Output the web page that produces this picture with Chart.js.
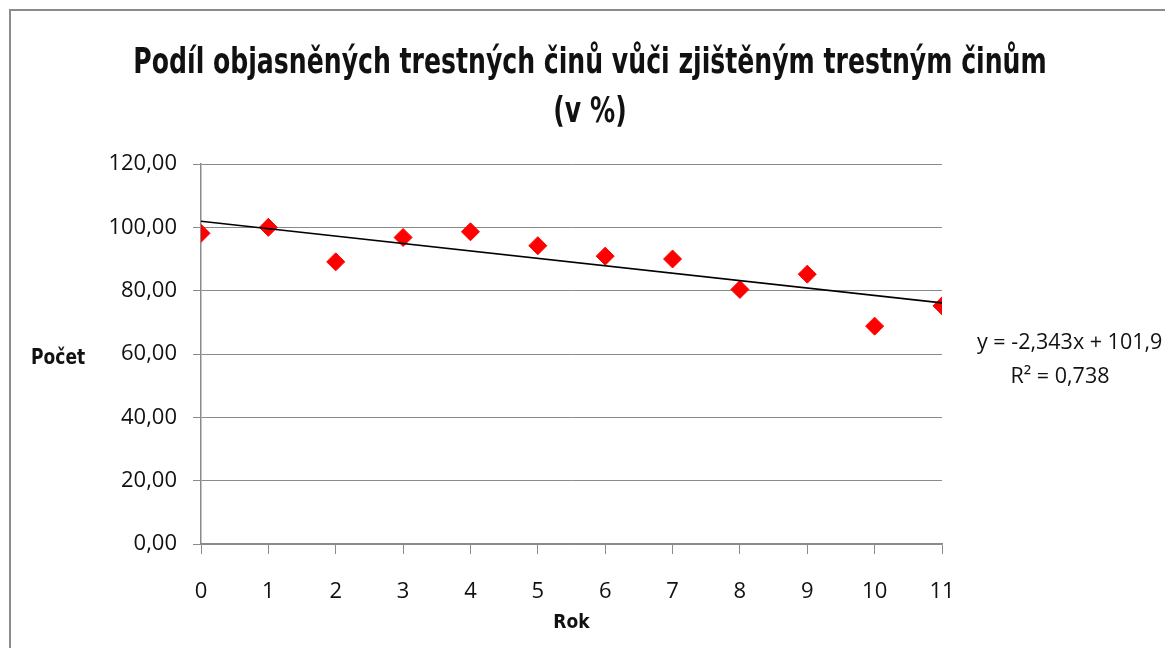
<!DOCTYPE html>
<html><head><meta charset="utf-8">
<script src="https://cdn.jsdelivr.net/npm/chart.js@4"></script>
<style>html,body{margin:0;padding:0;background:#fff;overflow:hidden}
#wrap{position:relative;width:1165px;height:648px}</style>
</head><body><div id="wrap"><canvas id="c" width="1165" height="648"></canvas></div>
<script>
// ---- data ----
const years = [0, 1, 2, 3, 4, 5, 6, 7, 8, 9, 10, 11];
const shares = [98.1, 100.0, 89.1, 96.8, 98.6, 94.2, 90.9, 90.0, 80.4, 85.2, 68.8, 75.2];
const trendX = [0, 11];
const trendY = [101.9, 76.13];
const yTicks = [0, 20, 40, 60, 80, 100, 120];
const titleLines = ['Podíl objasněných trestných činů vůči zjištěným trestným činům', '(v %)'];
const xTitle = 'Rok';
const yTitle = 'Počet';
const eqLines = ['y = -2,343x + 101,9', 'R² = 0,738'];

const NARROW = '"Liberation Sans Narrow", "DejaVu Sans Condensed", "Open Sans", sans-serif';
const REG = '"Open Sans", "Liberation Sans", sans-serif';
const TXT = '#111';
const GRID = '#8a8a8a';

const points = years.map((x, i) => ({x, y: shares[i]}));
const trend = trendX.map((x, i) => ({x, y: trendY[i]}));

function stretchedText(ctx, text, x, y, sy) {
  ctx.save();
  ctx.translate(x, y);
  ctx.scale(1, sy);
  ctx.fillText(text, 0, 0);
  ctx.restore();
}

const deco = {
  id: 'deco',
  beforeDraw(chart) {
    const ctx = chart.ctx;
    ctx.save();
    ctx.fillStyle = '#fff';
    ctx.fillRect(0, 0, chart.width, chart.height);
    ctx.strokeStyle = '#8c8c8c';
    ctx.lineWidth = 2;
    ctx.strokeRect(10, 10, 1400, 1000);
    ctx.restore();
  },
  afterDraw(chart) {
    const ctx = chart.ctx;
    ctx.save();
    ctx.fillStyle = TXT;
    ctx.textBaseline = 'alphabetic';
    // title
    let size = 34;
    ctx.font = 'bold ' + size + 'px ' + NARROW;
    const w = ctx.measureText(titleLines[0]).width;
    if (w > 914) { size = size * 914 / w; ctx.font = 'bold ' + size + 'px ' + NARROW; }
    ctx.textAlign = 'center';
    stretchedText(ctx, titleLines[0], 590, 73, 1.25);
    stretchedText(ctx, titleLines[1], 590, 122, 1.25);
    // y title (horizontal)
    ctx.font = 'bold 19px ' + NARROW;
    ctx.textAlign = 'left';
    stretchedText(ctx, yTitle, 31, 364, 1.15);
    // trendline label
    ctx.font = '21.5px ' + REG;
    ctx.textAlign = 'left';
    ctx.fillText(eqLines[0], 977, 349);
    ctx.textAlign = 'center';
    ctx.fillText(eqLines[1], 1060, 383);
    ctx.restore();
  }
};

new Chart(document.getElementById('c'), {
  type: 'scatter',
  data: {
    datasets: [
      {
        type: 'line', label: 'trend', data: trend, order: 0,
        borderColor: '#000', borderWidth: 1.6, pointRadius: 0, fill: false, tension: 0
      },
      {
        label: 'podíl', data: points, order: 1,
        pointStyle: 'rectRot', pointRadius: 9, pointHoverRadius: 9,
        backgroundColor: '#ff0000', borderColor: '#ff0000', borderWidth: 1
      }
    ]
  },
  options: {
    responsive: false,
    animation: false,
    devicePixelRatio: 1,
    layout: {padding: {left: 0, top: 164, right: 223, bottom: 0}},
    plugins: {legend: {display: false}, tooltip: {enabled: false}, title: {display: false}},
    scales: {
      x: {
        type: 'linear', min: 0, max: 11,
        afterBuildTicks(s) { s.ticks = years.map(v => ({value: v})); },
        ticks: {font: {family: REG, size: 22}, color: TXT, padding: 25, maxRotation: 0, autoSkip: false,
                callback: v => String(v)},
        grid: {drawOnChartArea: false, color: GRID, tickLength: 10, lineWidth: 1},
        border: {color: GRID, width: 1.5},
        title: {display: true, text: xTitle, font: {family: NARROW, size: 19, weight: 'bold'}, color: TXT, padding: 14},
        afterFit(s) { s.height = 104; }
      },
      y: {
        min: 0, max: 120,
        afterBuildTicks(s) { s.ticks = yTicks.map(v => ({value: v})); },
        ticks: {font: {family: REG, size: 22}, color: TXT, padding: 16,
                callback: v => Number(v).toFixed(2).replace('.', ',')},
        grid: {color: GRID, tickLength: 8, lineWidth: 1},
        border: {color: GRID, width: 1.5},
        afterFit(s) { s.width = 201; }
      }
    }
  },
  plugins: [deco]
});
</script>
</body></html>
